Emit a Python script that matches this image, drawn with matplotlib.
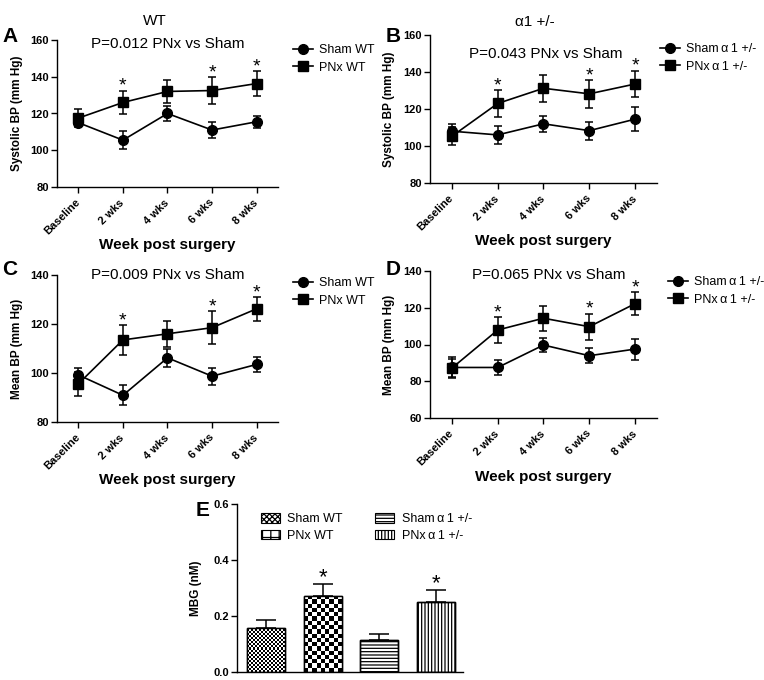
import numpy as np
import matplotlib
matplotlib.use('Agg')
import matplotlib.pyplot as plt
from matplotlib.patches import Patch
from matplotlib.lines import Line2D

plt.rcParams['font.family'] = ['Liberation Sans', 'DejaVu Sans']
plt.rcParams['hatch.linewidth'] = 0.9

# ---------------- data ----------------
weeks = ['Baseline', '2 wks', '4 wks', '6 wks', '8 wks']
sig_weeks = [False, True, False, True, True]

# A: systolic BP, WT
sbp_sham_wt = [115.0, 105.5, 120.0, 111.0, 115.5]
sbp_sham_wt_err = [2.0, 5.0, 4.0, 4.2, 3.3]
sbp_pnx_wt = [117.5, 126.0, 132.0, 132.5, 136.3]
sbp_pnx_wt_err = [5.0, 6.3, 6.5, 7.2, 6.8]

# B: systolic BP, alpha1 +/-
sbp_sham_a1 = [108.0, 106.0, 112.0, 108.3, 114.5]
sbp_sham_a1_err = [4.0, 4.9, 4.2, 4.8, 6.4]
sbp_pnx_a1 = [105.3, 123.0, 131.2, 128.2, 133.5]
sbp_pnx_a1_err = [5.0, 7.2, 7.2, 7.4, 7.2]

# C: mean BP, WT
mbp_sham_wt = [99.2, 90.9, 106.2, 98.7, 103.5]
mbp_sham_wt_err = [3.0, 4.1, 3.8, 3.5, 3.0]
mbp_pnx_wt = [95.6, 113.5, 116.0, 118.5, 126.2]
mbp_pnx_wt_err = [5.0, 6.1, 5.4, 6.8, 4.8]

# D: mean BP, alpha1 +/-
mbp_sham_a1 = [87.5, 87.5, 99.7, 93.9, 97.5]
mbp_sham_a1_err = [5.5, 4.0, 4.0, 4.0, 5.7]
mbp_pnx_a1 = [87.2, 107.9, 114.3, 109.7, 122.2]
mbp_pnx_a1_err = [5.0, 7.0, 6.9, 7.0, 6.1]

# E: MBG
mbg_groups = ['Sham WT', 'PNx WT', 'Sham\u2009α\u20091 +/-', 'PNx\u2009α\u20091 +/-']
mbg_values = [0.158, 0.272, 0.116, 0.249]
mbg_err = [0.027, 0.044, 0.021, 0.045]
mbg_sig = [False, True, False, True]

# ---------------- layout helpers ----------------
W, H = 764, 680
fig = plt.figure(figsize=(W / 100, H / 100), dpi=100)


def rect(x1, y1, x2, y2):
    return [x1 / W, 1 - y2 / H, (x2 - x1) / W, (y2 - y1) / H]


def ftext(x, y, s, **kw):
    fig.text(x / W, 1 - y / H, s, **kw)


def style_axes(ax):
    for s in ['top', 'right']:
        ax.spines[s].set_visible(False)
    for s in ['left', 'bottom']:
        ax.spines[s].set_linewidth(1.0)
    ax.tick_params(direction='out', length=4, width=1.0, labelsize=8, pad=2)
    for lab in ax.get_yticklabels():
        lab.set_fontweight('bold')


def line_panel(box, sham, sham_err, pnx, pnx_err, ylim, yticks, ylabel,
               labels, leg_xy, ylab_x, xlab_y):
    x1, y1, x2, y2 = box
    ax = fig.add_axes(rect(*box))
    x = np.arange(len(weeks))
    ax.errorbar(x, sham, yerr=sham_err, fmt='none', ecolor='k',
                elinewidth=1.1, capsize=3, capthick=1.1, zorder=3)
    ax.errorbar(x, pnx, yerr=pnx_err, fmt='none', ecolor='k',
                elinewidth=1.1, capsize=3, capthick=1.1, zorder=3)
    ax.plot(x, sham, '-o', color='k', ms=7, lw=1.2, zorder=4)
    ax.plot(x, pnx, '-s', color='k', ms=7, lw=1.2, zorder=4)
    for i, s in enumerate(sig_weeks):
        if s:
            ax.annotate('*', (x[i], pnx[i] + pnx_err[i]), xytext=(0, 0),
                        textcoords='offset points', ha='center',
                        va='baseline', fontsize=14)
    ax.set_xlim(-0.48, len(weeks) - 0.52)
    ax.set_ylim(*ylim)
    ax.set_yticks(yticks)
    ax.set_xticks(x)
    ax.set_xticklabels(weeks, rotation=45, ha='right', va='center',
                       rotation_mode='anchor', fontsize=8, fontweight='bold')
    style_axes(ax)
    ax.tick_params(axis='x', pad=6)
    ax.set_ylabel(ylabel, fontsize=8.5, fontweight='bold')
    ax.yaxis.set_label_coords((ylab_x - x1) / (x2 - x1), 0.5)
    ax.set_xlabel('Week post surgery', fontsize=11, fontweight='bold', va='center')
    ax.xaxis.set_label_coords(0.5, (y2 - xlab_y) / (y2 - y1))
    handles = [Line2D([], [], color='k', marker='o', ms=7, lw=1.2),
               Line2D([], [], color='k', marker='s', ms=7, lw=1.2)]
    ax.legend(handles, labels, loc='upper left',
              bbox_to_anchor=(leg_xy[0] / W, 1 - leg_xy[1] / H),
              bbox_transform=fig.transFigure, frameon=False, fontsize=9,
              borderpad=0, borderaxespad=0, handlelength=1.6,
              handletextpad=0.5, labelspacing=0.45)
    return ax


# ---------------- panels A-D ----------------
line_panel((57, 40, 278, 187), sbp_sham_wt, sbp_sham_wt_err, sbp_pnx_wt, sbp_pnx_wt_err,
           (80, 160), [80, 100, 120, 140, 160], 'Systolic BP (mm Hg)',
           ['Sham WT', 'PNx WT'], (293, 44), 23, 245)
line_panel((430, 35, 657, 183), sbp_sham_a1, sbp_sham_a1_err, sbp_pnx_a1, sbp_pnx_a1_err,
           (80, 160), [80, 100, 120, 140, 160], 'Systolic BP (mm Hg)',
           ['Sham\u2009α\u20091 +/-', 'PNx\u2009α\u20091 +/-'], (660, 43), 395, 241)
line_panel((57, 275, 278, 422), mbp_sham_wt, mbp_sham_wt_err, mbp_pnx_wt, mbp_pnx_wt_err,
           (80, 140), [80, 100, 120, 140], 'Mean BP (mm Hg)',
           ['Sham WT', 'PNx WT'], (293, 277), 23, 480)
line_panel((430, 271, 657, 418), mbp_sham_a1, mbp_sham_a1_err, mbp_pnx_a1, mbp_pnx_a1_err,
           (60, 140), [60, 80, 100, 120, 140], 'Mean BP (mm Hg)',
           ['Sham\u2009α\u20091 +/-', 'PNx\u2009α\u20091 +/-'], (668, 276), 395, 477)

# titles and panel letters
ftext(155, 21, 'WT', fontsize=11, ha='center', va='center')
ftext(168, 44, 'P=0.012 PNx vs Sham', fontsize=11, ha='center', va='center')
ftext(535, 22, 'α1 +/-', fontsize=11, ha='center', va='center')
ftext(546, 54, 'P=0.043 PNx vs Sham', fontsize=11, ha='center', va='center')
ftext(168, 275, 'P=0.009 PNx vs Sham', fontsize=11, ha='center', va='center')
ftext(549, 275, 'P=0.065 PNx vs Sham', fontsize=11, ha='center', va='center')
for letter, (lx, ly) in zip('ABCDE', [(2, 37), (386, 36), (2, 270), (386, 270), (196, 510)]):
    ftext(lx, ly, letter, fontsize=15, fontweight='bold', ha='left', va='center')

# ---------------- panel E ----------------
ebox = (237, 504, 463, 672)
axE = fig.add_axes(rect(*ebox))
xb = np.arange(len(mbg_values))
bw = 0.67
axE.set_xlim(-0.51, len(mbg_values) - 0.52)
axE.set_ylim(0, 0.6)
axE.errorbar(xb, mbg_values, yerr=[np.zeros(len(mbg_err)), mbg_err], fmt='none',
             ecolor='k', elinewidth=1.1, capsize=7, capthick=1.1, zorder=1)
hatches = [None, None, '-----', '|||||']
bars = axE.bar(xb, mbg_values, width=bw, color='white', edgecolor='k', lw=1.0, zorder=2)
for b, h in zip(bars, hatches):
    if h:
        b.set_hatch(h)


def checker_fill(ax, bar, sq_px):
    x0, y0 = bar.get_x(), bar.get_y()
    w, h = bar.get_width(), bar.get_height()
    p0 = ax.transData.transform((x0, y0))
    p1 = ax.transData.transform((x0 + w, y0 + h))
    nx = max(1, int(round((p1[0] - p0[0]) / sq_px)))
    ny = max(1, int(round((p1[1] - p0[1]) / sq_px)))
    arr = np.add.outer(np.arange(ny), np.arange(nx)) % 2
    im = ax.imshow(arr, cmap='gray', vmin=0, vmax=1, extent=(x0, x0 + w, y0, y0 + h),
                   origin='lower', interpolation='nearest', aspect='auto', zorder=2.5)
    im.set_clip_path(bar)


checker_fill(axE, bars[0], 2.0)
checker_fill(axE, bars[1], 4.2)
axE.bar(xb, mbg_values, width=bw, fill=False, edgecolor='k', lw=1.0, zorder=3)
axE.set_xlim(-0.51, len(mbg_values) - 0.52)
axE.set_ylim(0, 0.6)
axE.set_yticks([0.0, 0.2, 0.4, 0.6])
axE.set_yticklabels(['0.0', '0.2', '0.4', '0.6'])
axE.set_xticks([])
style_axes(axE)
for i, s in enumerate(mbg_sig):
    if s:
        axE.annotate('*', (xb[i], mbg_values[i] + mbg_err[i]), xytext=(0, 0),
                     textcoords='offset points', ha='center', va='baseline',
                     fontsize=16)
axE.set_ylabel('MBG (nM)', fontsize=8.5, fontweight='bold')
axE.yaxis.set_label_coords((202 - ebox[0]) / (ebox[2] - ebox[0]), 0.5)

leg_handles = [Patch(facecolor='white', edgecolor='k', hatch='xxxxxx', lw=0.8),
               Patch(facecolor='white', edgecolor='k', hatch='++', lw=0.8),
               Patch(facecolor='white', edgecolor='k', hatch='-----', lw=0.8),
               Patch(facecolor='white', edgecolor='k', hatch='|||||', lw=0.8)]
axE.legend(leg_handles, mbg_groups, ncol=2, loc='upper left',
           bbox_to_anchor=(261 / W, 1 - 513 / H), bbox_transform=fig.transFigure,
           frameon=False, fontsize=9, borderpad=0, borderaxespad=0,
           handlelength=1.5, handleheight=0.8, handletextpad=0.6,
           labelspacing=0.35, columnspacing=2.6)

fig.savefig('out.png', dpi=100)
